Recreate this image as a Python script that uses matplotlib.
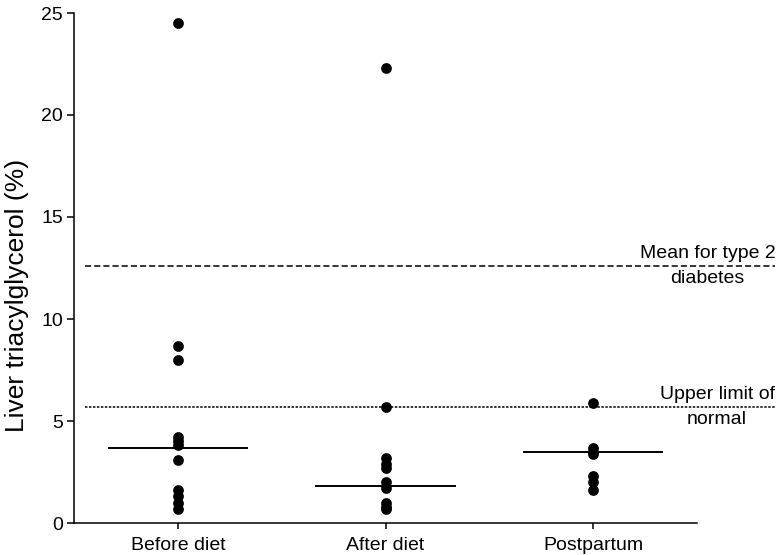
import matplotlib
matplotlib.use("Agg")
import matplotlib.pyplot as plt
import numpy as np

plt.rcParams['font.family'] = ['Liberation Sans', 'DejaVu Sans']

categories = ["Before diet", "After diet", "Postpartum"]
before_diet = [24.5, 8.7, 8.0, 4.2, 4.0, 3.8, 3.1, 1.6, 1.3, 1.0, 0.7]
after_diet = [22.3, 5.7, 3.2, 2.9, 2.7, 2.0, 1.7, 1.0, 0.8, 0.7]
postpartum = [5.9, 3.7, 3.5, 3.4, 2.3, 2.0, 1.6]
means = [3.7, 1.8, 3.5]
type2_mean = 12.6
upper_normal = 5.7
yticks = [0, 5, 10, 15, 20, 25]

fig = plt.figure(figsize=(7.76, 5.55), dpi=100)
ax = fig.add_axes([74/776, 32/555, (697-74)/776, (523-13)/555])

groups = [before_diet, after_diet, postpartum]
for i, vals in enumerate(groups):
    ax.scatter([i]*len(vals), vals, s=60, color='black', zorder=3, linewidths=0)
    ax.plot([i-0.333, i+0.333], [means[i], means[i]], color='black', lw=1.4)

ax.plot([-0.447, 2.877], [type2_mean]*2, color='black', lw=1.1, ls=(0, (4, 2)), clip_on=False)
ax.plot([-0.447, 2.877], [upper_normal]*2, color='black', lw=1.1, ls=(0, (1.6, 1.0)), clip_on=False)

fs = 14
ax.text(2.877, type2_mean + 0.2, "Mean for type 2", ha='right', va='bottom', fontsize=fs)
ax.text(2.548, type2_mean - 0.2, "diabetes", ha='center', va='top', fontsize=fs)
ax.text(2.877, upper_normal + 0.2, "Upper limit of", ha='right', va='bottom', fontsize=fs)
ax.text(2.597, upper_normal - 0.2, "normal", ha='center', va='top', fontsize=fs)

ax.set_xlim(-0.5, 2.5)
ax.set_ylim(0, 25)
ax.set_yticks(yticks)
ax.set_xticks(range(len(categories)))
ax.set_xticklabels(categories, fontsize=fs)
ax.tick_params(axis='y', labelsize=fs, direction='out', length=5, width=1.1, pad=3)
ax.tick_params(axis='x', direction='out', length=4, width=1.1, pad=6)
ax.set_ylabel("Liver triacylglycerol (%)", fontsize=19)
ax.yaxis.set_label_coords(-0.072, 0.447)
for s in ['top', 'right']:
    ax.spines[s].set_visible(False)
for s in ['left', 'bottom']:
    ax.spines[s].set_linewidth(1.1)

fig.savefig("out.png", dpi=100)
